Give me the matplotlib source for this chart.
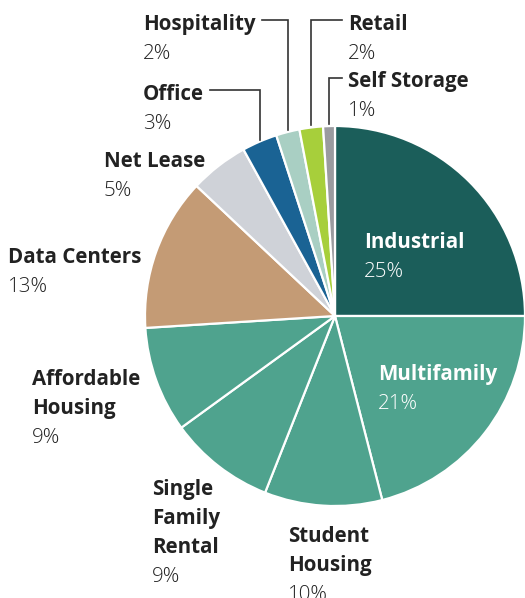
import numpy as np
import matplotlib
matplotlib.use("Agg")
import matplotlib.pyplot as plt

# ---- data ----
categories = ["Industrial", "Multifamily", "Student Housing", "Single Family Rental",
              "Affordable Housing", "Data Centers", "Net Lease", "Office",
              "Hospitality", "Retail", "Self Storage"]
label_lines = ["Industrial", "Multifamily", "Student\nHousing", "Single\nFamily\nRental",
               "Affordable\nHousing", "Data Centers", "Net Lease", "Office",
               "Hospitality", "Retail", "Self Storage"]
values = [25, 21, 10, 9, 9, 13, 5, 3, 2, 2, 1]
colors = ["#1b5e5a", "#4fa38e", "#4fa38e", "#4fa38e", "#4fa38e", "#c49b75",
          "#cfd2d8", "#1a6394", "#a9cfc3", "#a7cf3b", "#9a9b9f"]

W, H = 525, 598
DPI = 100
fig = plt.figure(figsize=(W / DPI, H / DPI), dpi=DPI)
ax = fig.add_axes([0, 0, 1, 1])

def Y(py):
    return H - py

cx, cy, R = 335, Y(316), 190
ax.pie(values, colors=colors, startangle=90, counterclock=False,
       center=(cx, cy), radius=R,
       wedgeprops=dict(edgecolor="white", linewidth=1.6))
ax.set_xlim(0, W)
ax.set_ylim(0, H)
ax.set_aspect("equal")
ax.axis("off")

FAM = ["Open Sans", "DejaVu Sans"]
FS = 14.8
LS = 29  # line spacing in px

# label layout: (x, first baseline in px, text color)
layout = {
    "Industrial": (364, 248, "white"),
    "Multifamily": (378, 380, "white"),
    "Student Housing": (288, 542, "#222222"),
    "Single Family Rental": (152, 495, "#222222"),
    "Affordable Housing": (32, 385, "#222222"),
    "Data Centers": (8, 263, "#222222"),
    "Net Lease": (104, 167, "#222222"),
    "Office": (143, 100, "#222222"),
    "Hospitality": (143, 30, "#222222"),
    "Retail": (348, 30, "#222222"),
    "Self Storage": (348, 87, "#222222"),
}

for cat, lab, v in zip(categories, label_lines, values):
    x, b, c = layout[cat]
    lines = lab.split("\n")
    for i, ln in enumerate(lines):
        ax.text(x, Y(b + i * LS), ln, ha="left", va="baseline", fontsize=FS,
                fontweight="bold", color=c, family=FAM)
    ax.text(x, Y(b + len(lines) * LS), f"{v}%", ha="left", va="baseline",
            fontsize=FS, fontweight="light", color=c, family=FAM)

# leader lines for small slices: from text to slice mid-angle
cum = np.cumsum([0] + values)
total = sum(values)
leaders = {
    # cat: (horizontal y px, text-side x px)
    "Office": (90, 210),
    "Hospitality": (20, 262),
    "Retail": (20, 342),
    "Self Storage": (78, 342),
}
for cat, (hy, tx) in leaders.items():
    i = categories.index(cat)
    mid = (cum[i] + cum[i + 1]) / 2 / total
    ang = np.deg2rad(90 - mid * 360)
    px = cx + R * np.cos(ang)
    py = cy + R * np.sin(ang)
    ax.plot([tx, px, px], [Y(hy), Y(hy), py + 2], color="#333333", lw=1.2,
            solid_joinstyle="miter")

fig.savefig("out.png", dpi=DPI)
